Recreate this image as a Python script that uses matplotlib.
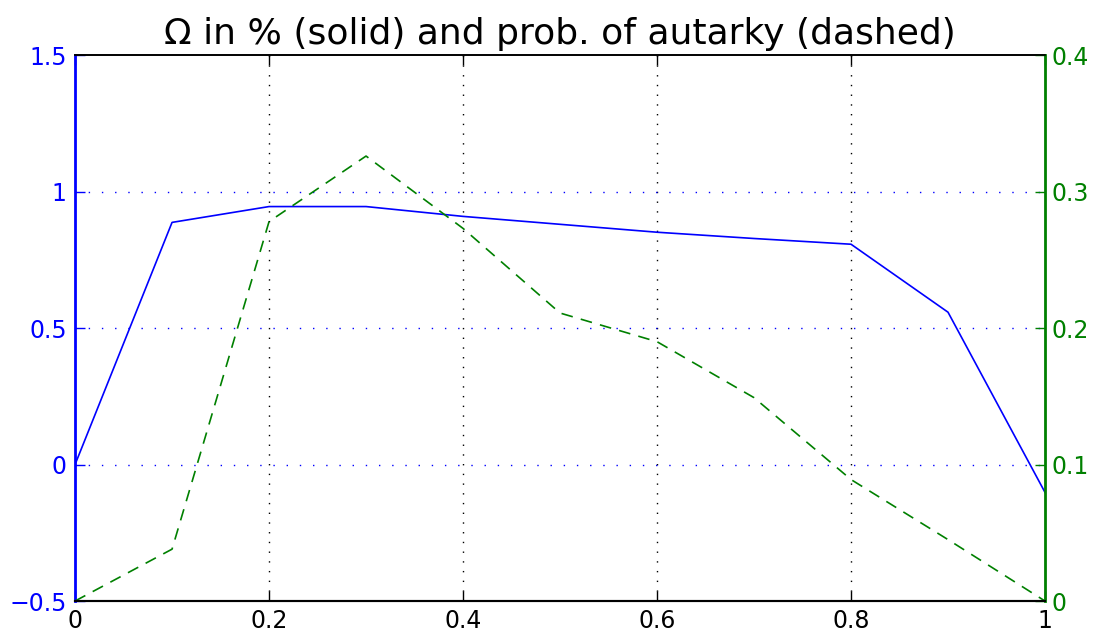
import matplotlib
matplotlib.use("Agg")
import matplotlib.pyplot as plt

# data
x = [0.0, 0.1, 0.2, 0.3, 0.4, 0.5, 0.6, 0.7, 0.8, 0.9, 1.0]
omega = [0.0, 0.887, 0.945, 0.945, 0.909, 0.880, 0.851, 0.828, 0.807, 0.558, -0.102]
autarky = [0.0, 0.038, 0.278, 0.326, 0.273, 0.211, 0.190, 0.149, 0.089, 0.045, 0.0]

xticks = [0, 0.2, 0.4, 0.6, 0.8, 1]
xticklabels = ["0", "0.2", "0.4", "0.6", "0.8", "1"]
lticks = [-0.5, 0, 0.5, 1, 1.5]
lticklabels = ["\u22120.5", "0", "0.5", "1", "1.5"]
rticks = [0, 0.1, 0.2, 0.3, 0.4]
rticklabels = ["0", "0.1", "0.2", "0.3", "0.4"]

BLUE = "#0000ff"
GREEN = "#008000"

plt.rcParams["font.family"] = ["DejaVu Sans"]

fig = plt.figure(figsize=(11.07, 6.35), dpi=100)
ax = fig.add_axes([0.0678, 0.0535, 0.8762, 0.8598])
ax2 = ax.twinx()

ax.plot(x, omega, color=BLUE, lw=1.2, zorder=3)
ax2.plot(x, autarky, color=GREEN, lw=1.2, dashes=(7, 5))

ax.set_xlim(0, 1)
ax.set_ylim(-0.5, 1.5)
ax2.set_ylim(0, 0.4)

ax.set_xticks(xticks)
ax.set_xticklabels(xticklabels, fontsize=17)
ax.set_yticks(lticks)
ax.set_yticklabels(lticklabels, fontsize=17, color=BLUE)
ax2.set_yticks(rticks)
ax2.set_yticklabels(rticklabels, fontsize=17, color=GREEN)

# matlab style grid: black dotted verticals, blue dotted horizontals
for v in xticks[1:-1]:
    ax.axvline(v, color="black", ls=(0, (1, 6)), lw=1.0, zorder=1)
for h in lticks[1:-1]:
    ax.axhline(h, color=BLUE, ls=(0, (1, 8.5)), lw=1.0, zorder=1)

ax.tick_params(axis="x", direction="in", length=7, width=1, top=True, pad=6, colors="black")
ax.tick_params(axis="y", direction="in", length=7, width=1, colors=BLUE, pad=6)
ax2.tick_params(axis="y", direction="in", length=7, width=1, colors=GREEN, pad=5)

ax.spines["left"].set_color(BLUE)
ax.spines["left"].set_linewidth(2)
ax2.spines["left"].set_visible(False)
ax2.spines["right"].set_color(GREEN)
ax2.spines["right"].set_linewidth(2)
ax.spines["right"].set_visible(False)
for a in (ax, ax2):
    a.spines["top"].set_color("black")
    a.spines["bottom"].set_color("black")
    a.spines["top"].set_linewidth(1.2)
    a.spines["bottom"].set_linewidth(1.5)

ax.set_title("\u03a9 in % (solid) and prob. of autarky (dashed)", fontsize=26, pad=8)

fig.savefig("out.png", dpi=100)
